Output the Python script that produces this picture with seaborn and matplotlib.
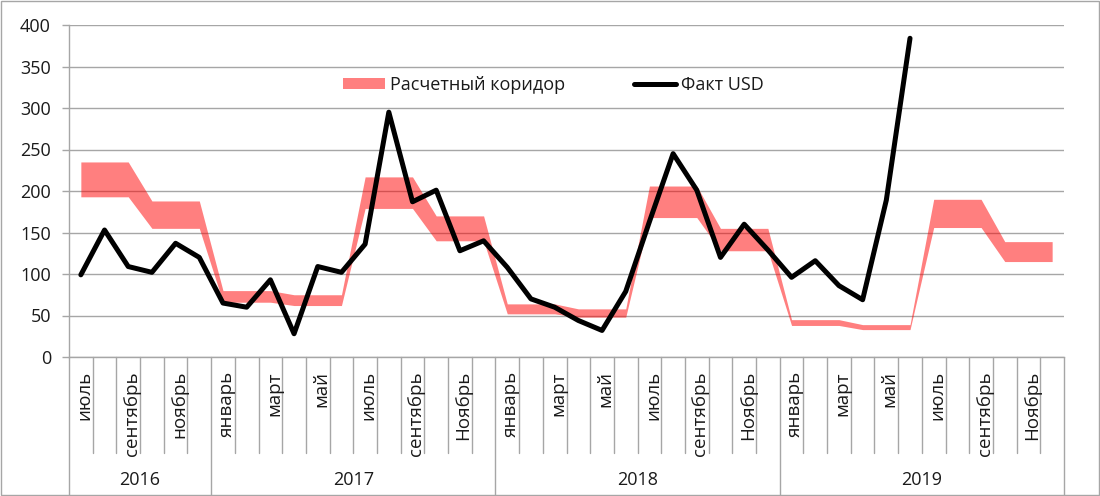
import numpy as np
import pandas as pd
import matplotlib
matplotlib.use("Agg")
import matplotlib.pyplot as plt
from matplotlib.patches import Patch, Rectangle
from matplotlib.lines import Line2D
import seaborn as sns

# month captions (Excel shows every second month)
month_labels = ["июль", "", "сентябрь", "", "ноябрь", "",
                "январь", "", "март", "", "май", "", "июль", "", "сентябрь", "", "Ноябрь", "",
                "январь", "", "март", "", "май", "", "июль", "", "сентябрь", "", "Ноябрь", "",
                "январь", "", "март", "", "май", "", "июль", "", "сентябрь", "", "Ноябрь", ""]
years = ["2016", "2017", "2018", "2019"]
months_in_year = [6, 12, 12, 12]

# Факт USD (no data after June 2019)
fact_usd = [99, 153, 109, 102, 137, 120,
            65, 60, 93, 28, 109, 102, 136, 295, 187, 201, 128, 140,
            108, 70, 60, 44, 32, 79, 163, 245, 201, 120, 160, 129,
            96, 116, 86, 69, 189, 384, np.nan, np.nan, np.nan, np.nan, np.nan, np.nan]

# Расчетный коридор, lower / upper bound
corridor_low = [193, 193, 193, 155, 155, 155,
                66, 66, 66, 62, 62, 62, 179, 179, 179, 140, 140, 140,
                52, 52, 52, 48, 48, 48, 168, 168, 168, 128, 128, 128,
                38, 38, 38, 33, 33, 33, 156, 156, 156, 115, 115, 115]
corridor_high = [235, 235, 235, 188, 188, 188,
                 80, 80, 80, 75, 75, 75, 217, 217, 217, 170, 170, 170,
                 64, 64, 64, 58, 58, 58, 206, 206, 206, 155, 155, 155,
                 45, 45, 45, 39, 39, 39, 190, 190, 190, 139, 139, 139]

df = pd.DataFrame({"month": np.arange(len(month_labels)),
                   "fact": fact_usd,
                   "low": corridor_low,
                   "high": corridor_high})

sns.set_style("white")
plt.rcParams["font.family"] = ["Open Sans", "DejaVu Sans"]
grey = "#a6a6a6"
txt = "#1a1a1a"
fs = 13

fig = plt.figure(figsize=(11, 4.96), dpi=100)
ax = fig.add_axes([69 / 1100, (496 - 357) / 496, 995 / 1100, 332 / 496])

ax.fill_between(df["month"], df["low"], df["high"], color="red", alpha=0.5, lw=0, zorder=1)
sns.lineplot(data=df, x="month", y="fact", color="black", lw=3.6, ax=ax, zorder=3,
             solid_capstyle="round", solid_joinstyle="round")

ax.set_xlim(-0.5, len(month_labels) - 0.5)
ax.set_ylim(0, 400)
ax.set_yticks(range(0, 401, 50))
ax.yaxis.grid(True, color=grey, lw=1)
ax.set_axisbelow(True)
ax.set_xticks([])
ax.set_xlabel("")
ax.set_ylabel("")
ax.tick_params(axis="y", direction="out", length=5, width=1, color=grey,
               labelsize=fs, labelcolor=txt, pad=8, left=True)
for s in ["top", "right"]:
    ax.spines[s].set_visible(False)
for s in ["left", "bottom"]:
    ax.spines[s].set_color(grey)
    ax.spines[s].set_linewidth(1)

# category table under the axis
tr = ax.get_xaxis_transform()
month_depth = -96 / 332
year_depth = -138 / 332
year_edges = np.cumsum([0] + months_in_year) - 0.5
for k in range(len(month_labels) + 1):
    xb = k - 0.5
    depth = year_depth if xb in year_edges else month_depth
    ax.plot([xb, xb], [0, depth], color=grey, lw=1, transform=tr, clip_on=False)
for i, lab in enumerate(month_labels):
    if lab:
        ax.text(i + 0.15, -14 / 332, lab, rotation=90, ha="center", va="top",
                fontsize=fs + 0.5, color=txt, transform=tr)
for j, yr in enumerate(years):
    xc = (year_edges[j] + year_edges[j + 1]) / 2
    ax.text(xc, -123 / 332, yr, ha="center", va="center", fontsize=fs, color=txt, transform=tr)

handles = [Patch(facecolor="red", alpha=0.5, lw=0),
           Line2D([], [], color="black", lw=3.6, solid_capstyle="round")]
ax.legend(handles, ["Расчетный коридор", "Факт USD"], loc="center",
          bbox_to_anchor=(0.487, 0.819), ncol=2, frameon=False, fontsize=fs,
          handlelength=2.3, handleheight=0.6, handletextpad=0.3, columnspacing=3.8,
          labelcolor=txt)

fig.add_artist(Rectangle((0.001, 0.002), 0.998, 0.996, transform=fig.transFigure,
                         fill=False, edgecolor=grey, lw=1))

fig.savefig("out.png", dpi=100)
